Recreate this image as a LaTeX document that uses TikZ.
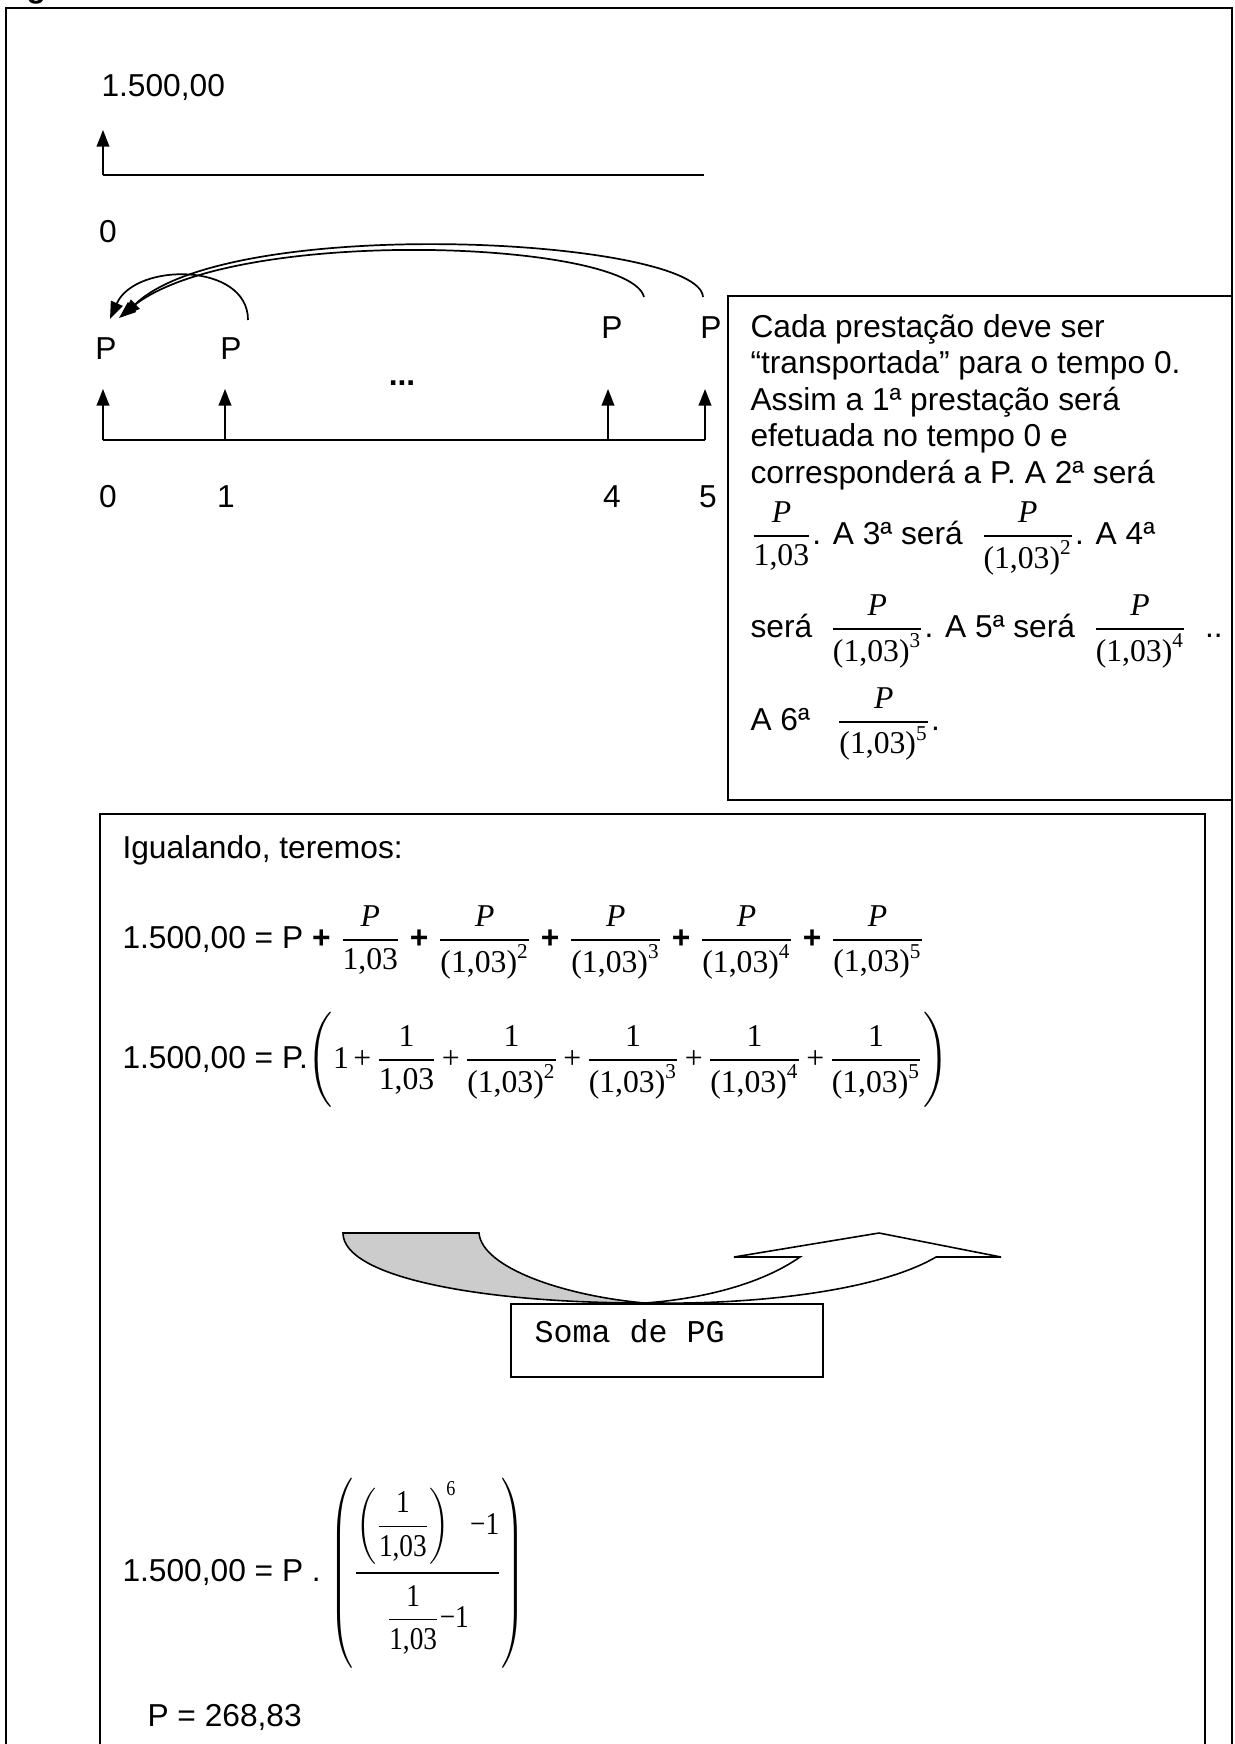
\documentclass[tikz,border=0pt]{standalone}
\usepackage{fontspec}
\usepackage{amsmath}
\usepackage{graphicx}
\setmainfont{Liberation Sans}
\newfontfamily\tnr{Liberation Serif}
\newfontfamily\cour{Liberation Mono}
\usetikzlibrary{arrows.meta}
\definecolor{shade}{HTML}{CCCCCC}
\newcommand\tn[1]{\text{\tnr #1}}
\newcommand\tnit[1]{\text{\tnr\itshape #1}}
\newcommand\pw[1]{\tn{(1,03)}^{\tn{#1}}}
\newcommand\Pfrac[1]{\dfrac{\tnit{P}}{#1}}
\newcommand\pl{\mskip2.5mu\tn{+}\mskip2.5mu}
\newcommand\strutx[2]{\vrule height #1 depth #2 width 0pt}
\begin{document}
\begin{tikzpicture}[x=0.3785pt,y=-0.3785pt,
  txt/.style={inner sep=0pt, anchor=base west, font=\fontsize{12}{14}\selectfont},
  ctxt/.style={inner sep=0pt, anchor=base, font=\fontsize{12}{14}\selectfont},
  frame/.style={draw, line width=0.8pt},
  boxline/.style={draw, line width=0.65pt},
  tl/.style={line width=0.7pt},
  up/.style={tl, -{Triangle[width=4.8pt,length=6.3pt]}},
  carc/.style={line width=0.65pt, -{Triangle[width=4.8pt,length=6.5pt]}}]
\useasboundingbox (0,0) rectangle (1235,1744);
\fill[white] (0,0) rectangle (1235,1744);
% heading fragment
\node[txt, font=\bfseries\fontsize{12}{14}\selectfont] (hd) at (26,-2.5) {g};
% outer frame
\draw[frame] (6,1760) -- (6,8) -- (1232,8) -- (1232,1760);
% top time line
\node[txt] (v0) at (101,96) {1.500,00};
\coordinate (a0) at (103,175);
\coordinate (a0end) at (704,175);
\coordinate (a0tip) at (103,130);
\draw[tl] (a0) -- (a0end);
\draw[up] (a0) -- (a0tip);
\node[ctxt] (z0) at (108,242) {0};
% bottom time line
\coordinate (b0) at (103,440);
\coordinate (b1) at (225,440);
\coordinate (b4) at (608,440);
\coordinate (b5) at (705,440);
\coordinate (b0t) at (103,389);
\coordinate (b1t) at (225,389);
\coordinate (b4t) at (608,389);
\coordinate (b5t) at (705,389);
\draw[tl] (b0) -- (b5);
\draw[up] (b0) -- (b0t);
\draw[up] (b1) -- (b1t);
\draw[up] (b4) -- (b4t);
\draw[up] (b5) -- (b5t);
\node[ctxt] (n0) at (108,507) {0};
\node[ctxt] (n1) at (226,507) {1};
\node[ctxt] (n4) at (612,507) {4};
\node[ctxt] (n5) at (708,507) {5};
\node[ctxt] (p0) at (106,359) {P};
\node[ctxt] (p1) at (231,359) {P};
\node[ctxt] (p4) at (612,338) {P};
\node[ctxt] (p5) at (711,338) {P};
\node[ctxt, font=\bfseries\fontsize{12}{14}\selectfont] (dots) at (402,385) {...};
% transport arcs
\coordinate (s1) at (248,320);
\coordinate (s4) at (644,297);
\coordinate (s5) at (703,297);
\coordinate (e1) at (110,319);
\coordinate (e4) at (119,318);
\coordinate (e5) at (123,316);
\draw[carc] (s1) .. controls (248,262) and (135,262) .. (e1);
\draw[carc] (s4) .. controls (630,240) and (230,225) .. (e4);
\draw[carc] (s5) .. controls (700,238) and (230,213) .. (e5);
% right explanation box
\draw[boxline] (728,296) rectangle (1232,800);
\node[txt] (t1) at (750,337) {Cada prestação deve ser};
\node[txt] (t2) at (750,373) {“transportada” para o tempo 0.};
\node[txt] (t3) at (750,410) {Assim a 1ª prestação será};
\node[txt] (t4) at (750,446) {efetuada no tempo 0 e};
\node[txt] (t5) at (750,483) {corresponderá a P. A 2ª será};
\node[txt] (t6) at (750,544) {$\Pfrac{\tn{1,03}}$. A 3ª será $\;\Pfrac{\pw{2}}$. A 4ª};
\node[txt] (t7) at (750,637) {será $\;\Pfrac{\pw{3}}$. A 5ª será $\;\Pfrac{\pw{4}}\;$ ..};
\node[txt] (t8) at (750,730) {A 6ª \ $\;\Pfrac{\pw{5}}$.};
% lower box
\draw[boxline] (100,1760) -- (100,814) -- (1205,814) -- (1205,1760);
\node[txt] (ig) at (122,858) {Igualando, teremos:};
\node[txt] (eq1) at (122,948) {1.500,00 = P \textbf{+} $\Pfrac{\tn{1,03}}$ \textbf{+} $\Pfrac{\pw{2}}$ \textbf{+} $\Pfrac{\pw{3}}$ \textbf{+} $\Pfrac{\pw{4}}$ \textbf{+} $\Pfrac{\pw{5}}$};
\node[txt] (eq2) at (122,1068) {1.500,00 = P.$\left(\strutx{22pt}{16pt}\tn{1}\pl\dfrac{\tn{1}}{\tn{1,03}}\pl\dfrac{\tn{1}}{\pw{2}}\pl\dfrac{\tn{1}}{\pw{3}}\pl\dfrac{\tn{1}}{\pw{4}}\pl\dfrac{\tn{1}}{\pw{5}}\right)$};
% curved arrow (soma de PG)
\filldraw[fill=shade, draw=black, line width=0.6pt] (343,1233) -- (479,1233) .. controls (482,1268) and (565,1296) .. (645,1303) .. controls (480,1303) and (343,1277) .. cycle;
\filldraw[fill=white, draw=black, line width=0.6pt] (645,1303) .. controls (760,1305) and (880,1290) .. (936,1257) -- (1001,1257) -- (879,1233) -- (734,1257) -- (800,1257) .. controls (760,1285) and (700,1299) .. cycle;
\draw[boxline, fill=white] (511,1304) rectangle (823,1377);
\node[txt, font=\cour\fontsize{12}{14}\selectfont] (pg) at (534,1342) {Soma de PG};
\node[txt] (eq3) at (122,1581) {1.500,00 = P . \scalebox{0.86}[1]{$\left(\strutx{40pt}{34pt}\dfrac{\left(\strutx{18pt}{12pt}\dfrac{\tn{1}}{\tn{1,03}}\right)^{\!\tn{6}}\mkern6mu\tn{−1}\strutx{0pt}{13pt}}{\strutx{19pt}{0pt}\dfrac{\tn{1}}{\tn{1,03}}\tn{−1}}\right)$}};
\node[txt] (res) at (147,1726) {P = 268,83};
\end{tikzpicture}
\end{document}
